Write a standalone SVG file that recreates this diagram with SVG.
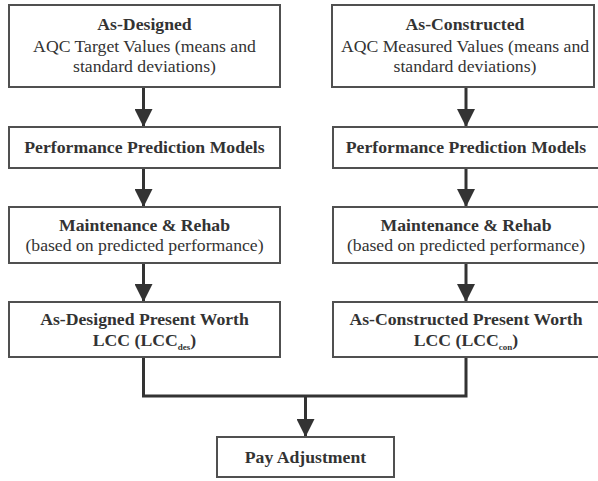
<svg xmlns="http://www.w3.org/2000/svg" width="598" height="481" viewBox="0 0 598 481">
<defs>
<style>
.box{fill:#fff;stroke:#505050;stroke-width:2}
.t{font-family:'Liberation Serif','Times New Roman',Times,Tinos,'Noto Serif','DejaVu Serif','Nimbus Roman',FreeSerif,serif;font-size:17.7px;fill:#333;text-anchor:middle}
.b{font-weight:bold}
.sub{font-size:9px}
.c{fill:none;stroke:#333;stroke-width:3}
</style>
<marker id="ah" markerUnits="userSpaceOnUse" markerWidth="18" markerHeight="18" refX="18" refY="9" orient="auto">
<path d="M0,0 L18,9 L0,18 Z" fill="#333"/>
</marker>
</defs>
<rect width="598" height="481" fill="#fff"/>
<g id="connectors">
<line class="c" x1="143.5" y1="87" x2="143.5" y2="127" marker-end="url(#ah)"/>
<line class="c" x1="143.5" y1="168" x2="143.5" y2="207" marker-end="url(#ah)"/>
<line class="c" x1="143.5" y1="263" x2="143.5" y2="302" marker-end="url(#ah)"/>
<line class="c" x1="466" y1="87" x2="466" y2="127" marker-end="url(#ah)"/>
<line class="c" x1="466" y1="168" x2="466" y2="207" marker-end="url(#ah)"/>
<line class="c" x1="466" y1="263" x2="466" y2="302" marker-end="url(#ah)"/>
<polyline class="c" points="143.5,357 143.5,396 466,396 466,357"/>
<line class="c" x1="305.5" y1="396" x2="305.5" y2="437" marker-end="url(#ah)"/>
</g>
<g id="ad1">
<rect class="box" x="9" y="5" width="271" height="82"/>
<text class="t b" x="144.5" y="30">As-Designed</text>
<text class="t" x="144.5" y="52">AQC Target Values (means and</text>
<text class="t" x="144.5" y="72">standard deviations)</text>
</g>
<g id="ad2">
<rect class="box" x="9" y="127" width="271" height="41"/>
<text class="t b" x="144.5" y="153">Performance Prediction Models</text>
</g>
<g id="ad3">
<rect class="box" x="9" y="207" width="271" height="56"/>
<text class="t b" x="144.5" y="231">Maintenance &amp; Rehab</text>
<text class="t" x="144.5" y="251">(based on predicted performance)</text>
</g>
<g id="ad4">
<rect class="box" x="9" y="302" width="271" height="55"/>
<text class="t b" x="144.5" y="325">As-Designed Present Worth</text>
<text class="t b" x="144.5" y="346">LCC (LCC<tspan class="sub" dy="4">des</tspan><tspan dy="-4">)</tspan></text>
</g>
<g id="ac1">
<rect class="box" x="332" y="5" width="262" height="82"/>
<text class="t b" x="465" y="30">As-Constructed</text>
<text class="t" x="465" y="52">AQC Measured Values (means and</text>
<text class="t" x="465" y="72">standard deviations)</text>
</g>
<g id="ac2">
<rect class="box" x="333" y="127" width="266" height="41"/>
<text class="t b" x="466" y="153">Performance Prediction Models</text>
</g>
<g id="ac3">
<rect class="box" x="333" y="207" width="266" height="56"/>
<text class="t b" x="466" y="231">Maintenance &amp; Rehab</text>
<text class="t" x="466" y="251">(based on predicted performance)</text>
</g>
<g id="ac4">
<rect class="box" x="333" y="302" width="266" height="55"/>
<text class="t b" x="466" y="325">As-Constructed Present Worth</text>
<text class="t b" x="466" y="346">LCC (LCC<tspan class="sub" dy="4">con</tspan><tspan dy="-4">)</tspan></text>
</g>
<g id="pay">
<rect class="box" x="217" y="437" width="177" height="40"/>
<text class="t b" x="305.5" y="463">Pay Adjustment</text>
</g>
</svg>
